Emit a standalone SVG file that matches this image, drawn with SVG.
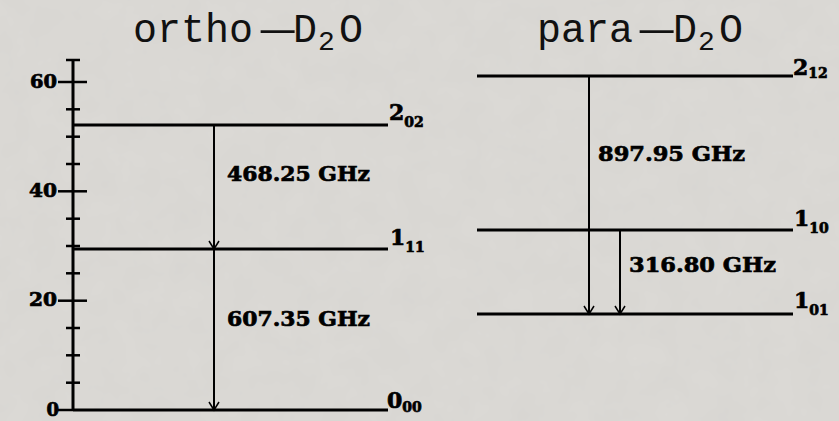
<svg xmlns="http://www.w3.org/2000/svg" width="839" height="421" viewBox="0 0 839 421">
  <defs>
    <filter id="paper" x="0" y="0" width="100%" height="100%">
      <feTurbulence type="fractalNoise" baseFrequency="0.035" numOctaves="3" seed="7" result="n"/>
      <feColorMatrix in="n" type="matrix" values="0 0 0 0 0.55  0 0 0 0 0.54  0 0 0 0 0.52  0 0 0 0.18 0"/>
    </filter>
    <marker id="chev" viewBox="-10 -6 12 12" markerWidth="12" markerHeight="12" refX="0" refY="0" orient="auto" markerUnits="userSpaceOnUse">
      <path d="M-8,-5 L0,0 L-8,5" fill="none" stroke="#000" stroke-width="1.5"/>
    </marker>
    <style>
      .title { font-family: "Liberation Mono", "Courier New", monospace; font-size: 40px; fill: #111; }
      .sub2 { font-size: 28px; }
      .lvl { stroke: #000; stroke-width: 3; fill: none; }
      .tick { stroke: #000; stroke-width: 2.5; fill: none; }
      .axis { stroke: #000; stroke-width: 3; fill: none; }
      .arrow { stroke: #000; stroke-width: 2; fill: none; marker-end: url(#chev); }
      .bold { font-family: "DejaVu Serif", "Liberation Serif", serif; font-weight: bold; fill: #000; stroke: #000; stroke-width: 0.7; }
      .freq { font-size: 21px; }
      .tl { font-size: 18px; text-anchor: end; }
      .main { font-size: 22px; }
      .idx { font-size: 14px; }
    </style>
  </defs>

  <!-- paper background -->
  <rect width="839" height="421" fill="#dcdad6"/>
  <rect width="839" height="421" filter="url(#paper)"/>

  <!-- panel titles -->
  <g id="title-ortho">
    <text class="title" x="133" y="42">ortho</text>
    <text class="title" x="257" y="45" textLength="42" lengthAdjust="spacingAndGlyphs">−</text>
    <text class="title" x="293" y="42">D<tspan class="sub2" x="318" y="50">2</tspan><tspan x="339" y="42">O</tspan></text>
  </g>
  <g id="title-para">
    <text class="title" x="537" y="42">para</text>
    <text class="title" x="636" y="45" textLength="42" lengthAdjust="spacingAndGlyphs">−</text>
    <text class="title" x="673" y="42">D<tspan class="sub2" x="698" y="50">2</tspan><tspan x="719" y="42">O</tspan></text>
  </g>

  <!-- energy axis (0 at y=410, 5 units per 27.33 px) -->
  <g id="axis">
    <line class="axis" x1="73" y1="60" x2="73" y2="410"/>
    <line class="tick" x1="66" y1="60" x2="80" y2="60"/>
    <g class="tick">
      <line x1="58" y1="82" x2="87" y2="82"/>
      <line x1="58" y1="191.3" x2="87" y2="191.3"/>
      <line x1="58" y1="300.7" x2="87" y2="300.7"/>
      <line x1="58" y1="410" x2="73" y2="410"/>
      <line x1="66" y1="109.3" x2="80" y2="109.3"/>
      <line x1="66" y1="136.7" x2="80" y2="136.7"/>
      <line x1="66" y1="164" x2="80" y2="164"/>
      <line x1="66" y1="218.7" x2="80" y2="218.7"/>
      <line x1="66" y1="246" x2="80" y2="246"/>
      <line x1="66" y1="273.3" x2="80" y2="273.3"/>
      <line x1="66" y1="328" x2="80" y2="328"/>
      <line x1="66" y1="355.3" x2="80" y2="355.3"/>
      <line x1="66" y1="382.7" x2="80" y2="382.7"/>
    </g>
    <text class="bold tl" x="57" y="88" textLength="27" lengthAdjust="spacingAndGlyphs">60</text>
    <text class="bold tl" x="57" y="197" textLength="28" lengthAdjust="spacingAndGlyphs">40</text>
    <text class="bold tl" x="57" y="306" textLength="28" lengthAdjust="spacingAndGlyphs">20</text>
    <text class="bold tl" x="59" y="416">0</text>
  </g>

  <!-- ortho levels -->
  <g id="o202">
    <line class="lvl" x1="73" y1="125" x2="388" y2="125"/>
    <text class="bold" x="389" y="120"><tspan class="main">2</tspan><tspan class="idx" y="127">02</tspan></text>
  </g>
  <g id="o111">
    <line class="lvl" x1="73" y1="249" x2="388" y2="249"/>
    <text class="bold" x="390" y="245"><tspan class="main">1</tspan><tspan class="idx" y="252">11</tspan></text>
  </g>
  <g id="o000">
    <line class="lvl" x1="73" y1="410" x2="388" y2="410"/>
    <text class="bold" x="387" y="408"><tspan class="main">0</tspan><tspan class="idx" y="412">00</tspan></text>
  </g>

  <!-- para levels -->
  <g id="p212">
    <line class="lvl" x1="477" y1="76" x2="793" y2="76"/>
    <text class="bold" x="793" y="75"><tspan class="main">2</tspan><tspan class="idx" y="78">12</tspan></text>
  </g>
  <g id="p110">
    <line class="lvl" x1="477" y1="230" x2="793" y2="230"/>
    <text class="bold" x="794" y="226"><tspan class="main">1</tspan><tspan class="idx" y="233">10</tspan></text>
  </g>
  <g id="p101">
    <line class="lvl" x1="477" y1="314" x2="793" y2="314"/>
    <text class="bold" x="794" y="308"><tspan class="main">1</tspan><tspan class="idx" y="315">01</tspan></text>
  </g>

  <!-- transitions -->
  <g id="connectors">
    <line class="arrow" x1="214" y1="125" x2="214" y2="249"/>
    <line class="arrow" x1="214" y1="249" x2="214" y2="410"/>
    <line class="arrow" x1="589" y1="76" x2="589" y2="314"/>
    <line class="arrow" x1="620" y1="230" x2="620" y2="314"/>
    <text class="bold freq" x="227" y="181" textLength="143" lengthAdjust="spacingAndGlyphs">468.25  GHz</text>
    <text class="bold freq" x="227" y="326" textLength="143" lengthAdjust="spacingAndGlyphs">607.35  GHz</text>
    <text class="bold freq" x="598" y="161" textLength="147" lengthAdjust="spacingAndGlyphs">897.95  GHz</text>
    <text class="bold freq" x="629" y="272" textLength="147" lengthAdjust="spacingAndGlyphs">316.80  GHz</text>
  </g>
</svg>
